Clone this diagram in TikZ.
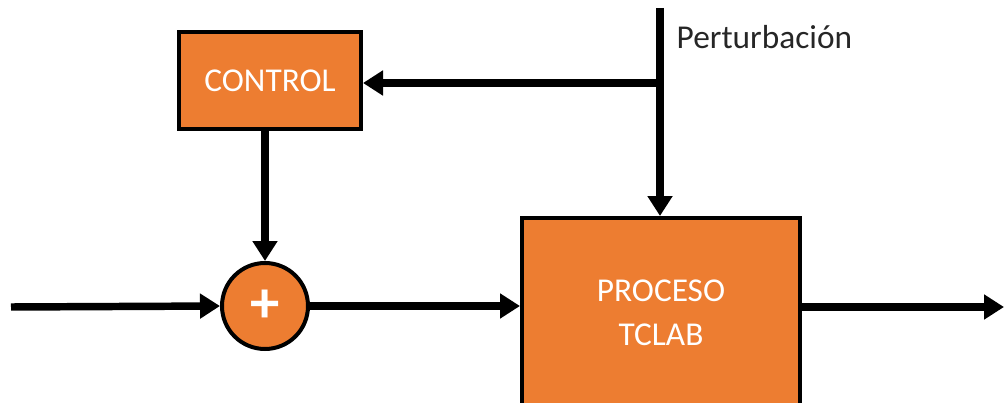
\documentclass[tikz,border=0pt]{standalone}
\usepackage{fontspec}
\setmainfont{Carlito}
\usetikzlibrary{arrows.meta,calc}
\definecolor{boxorange}{HTML}{ED7D31}
\definecolor{labelgray}{HTML}{262626}
\tikzset{
  block/.style={draw=black,line width=3pt,fill=boxorange,text=white,
    align=center,font=\fontsize{25}{33}\selectfont},
  sumnode/.style={circle,draw=black,line width=3pt,fill=boxorange,text=white,
    minimum size=64.5pt,inner sep=0pt,font=\fontsize{44}{44}\selectfont\bfseries},
  signal/.style={line width=5.6pt,-{Triangle[length=15pt,width=18pt]}},
  wire/.style={line width=5.6pt}
}
\begin{document}
\begin{tikzpicture}[x=0.75pt,y=-0.75pt]
    % page frame
    \useasboundingbox (0,0) rectangle (1004,403);
    \clip (0,0) rectangle (1004,403);
    % blocks
    \node [block,minimum width=136.5pt,minimum height=72.75pt] (control) at (270,80.5) {CONTROL};
    \node [sumnode] (sum) at (265,306) {+};
    \node [block,minimum width=208.5pt,minimum height=142.5pt] (proceso) at (661,313) {PROCESO\\TCLAB};
    % free ends
    \coordinate (pert) at (660,8);
    \coordinate (split) at (660,83);
    \coordinate (inp) at (11,307);
    \coordinate (outp) at (1004,307);
    \node [anchor=west,text=labelgray,font=\fontsize{25}{30}\selectfont] (pertlabel) at (672,37) {Perturbación};
    % signals
    \draw [wire] (pert) -- (split);
    \draw [signal] (split) -- (split -| control.east);
    \draw [signal] (split) -- (split |- proceso.north);
    \draw [signal] (control.south -| sum) -- (sum.north);
    \draw [signal] (inp) -- (sum.west);
    \draw [signal] (sum.east) -- (sum.east -| proceso.west);
    \draw [signal] (proceso.east |- outp) -- (outp);
\end{tikzpicture}
\end{document}
